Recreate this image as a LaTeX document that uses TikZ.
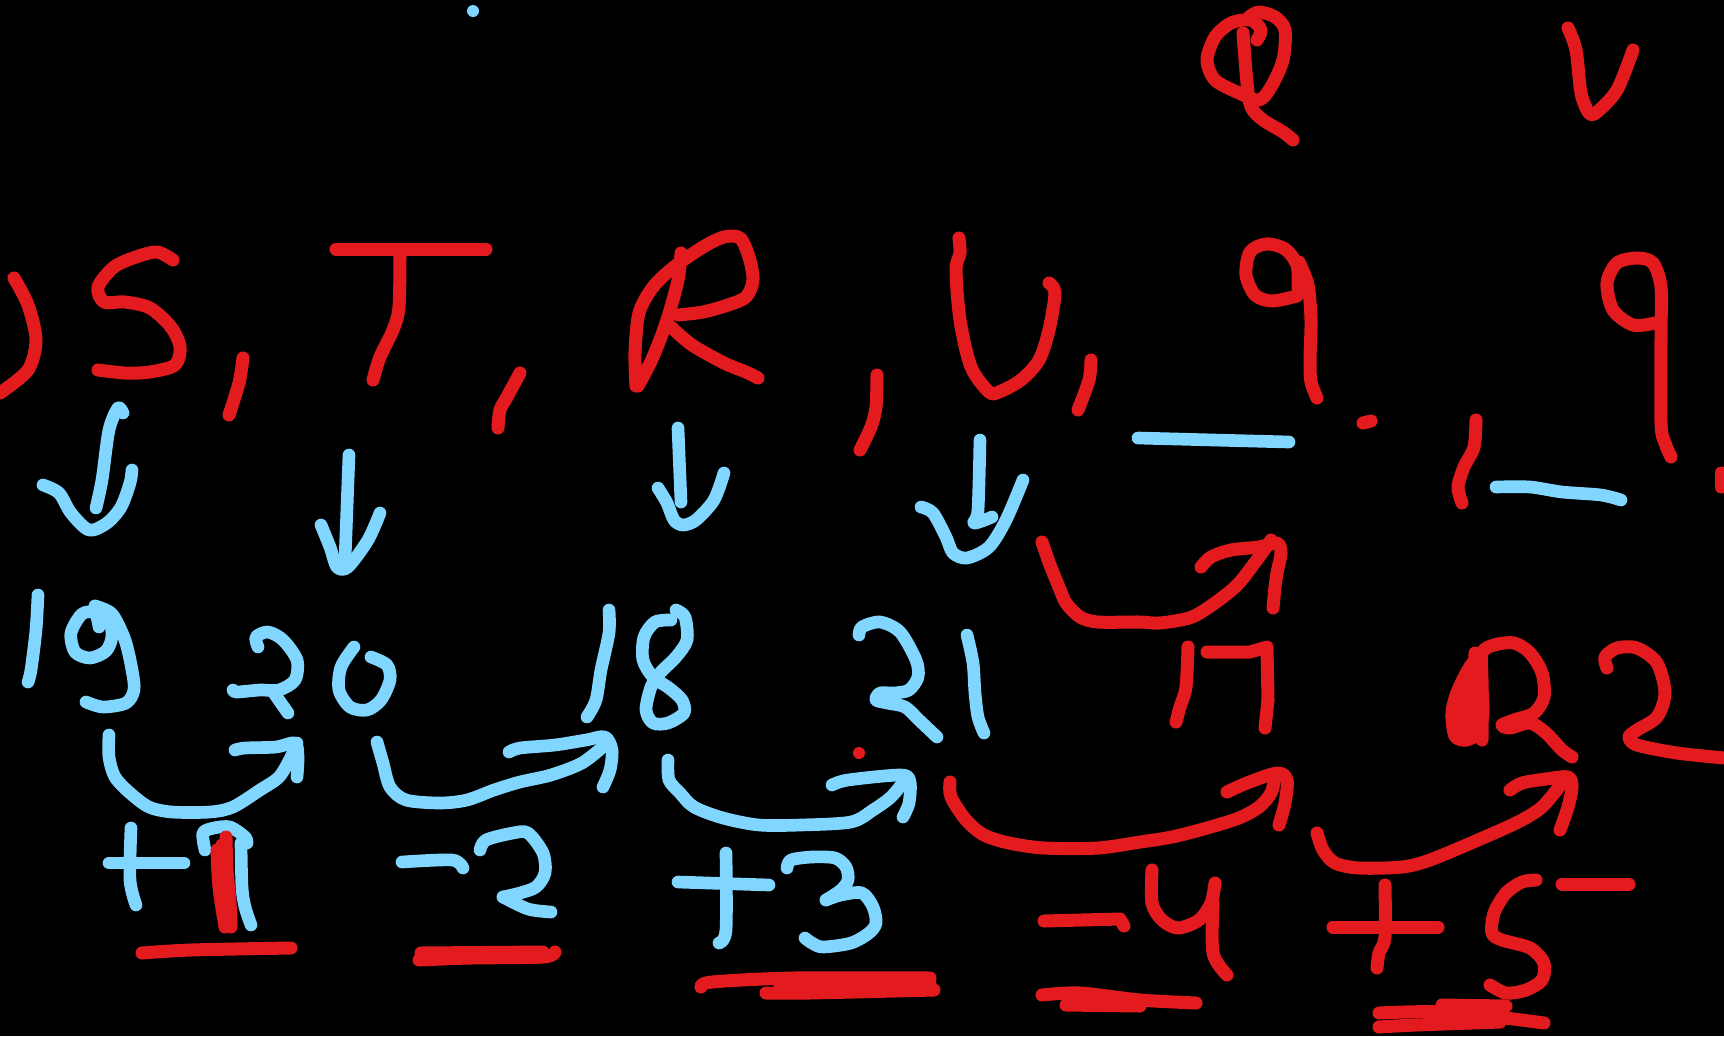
\documentclass[tikz,border=0pt]{standalone}
\definecolor{hred}{RGB}{228,27,30}
\definecolor{hblue}{RGB}{128,214,255}
\begin{document}
\begin{tikzpicture}[x=0.01cm,y=-0.01cm,
 rs/.style={draw=hred,line width=3.7pt,line cap=round,line join=round},
 bs/.style={draw=hblue,line width=3.6pt,line cap=round,line join=round}]
\fill[black] (0,0) rectangle (1724,1036);
\useasboundingbox (0,0) rectangle (1724,1036);
% ---------- red letters row ----------
\draw[rs] plot[smooth] coordinates {(14,278) (28,305) (36,340) (28,370) (0,393)};
\draw[rs] plot[smooth] coordinates {(173,260) (157,252) (136,257) (114,267) (98,287) (104,302) (125,302) (150,308) (171,327) (180,347) (175,365) (150,372) (125,373) (98,370)};
\draw[rs] plot[smooth] coordinates {(243,358) (239,383) (229,415)};
\draw[rs] (336,249) -- (486,249);
\draw[rs] plot[smooth] coordinates {(400,253) (399,307) (393,330) (380,357) (373,380)};
\draw[rs] plot[smooth] coordinates {(520,373) (507,397) (500,410) (498,428)};
\draw[rs] plot[smooth] coordinates {(681,253) (678,280) (667,320) (653,357) (638,386)};
\draw[rs] plot[smooth] coordinates {(636,386) (635,353) (639,313) (653,287) (674,267) (703,247) (724,237) (740,238) (749,257) (753,280) (746,297) (728,305) (703,312) (678,315)};
\draw[rs] plot[smooth] coordinates {(671,327) (692,345) (724,363) (746,372) (758,378)};
\draw[rs] plot[smooth] coordinates {(877,375) (876,407) (871,427) (860,450)};
\draw[rs] plot[smooth] coordinates {(959,238) (960,253) (956,270) (960,320) (971,367) (989,392) (999,392) (1021,380) (1039,360) (1049,330) (1055,293) (1049,283)};
\draw[rs] plot[smooth] coordinates {(1091,360) (1089,380) (1078,410)};
% Q and V
\draw[rs] plot[smooth] coordinates {(1257,40) (1261,30) (1251,20) (1231,23) (1215,37) (1207,60) (1215,80) (1239,93) (1259,100) (1271,87) (1283,60) (1285,30) (1275,17) (1259,12) (1249,17)};
\draw[rs] plot[smooth] coordinates {(1243,33) (1247,83) (1251,107) (1263,120) (1283,132) (1293,140)};
\draw[rs] plot[smooth] coordinates {(1568,28) (1576,50) (1581,93) (1589,113) (1597,112) (1617,90) (1633,50)};
% nines
\draw[rs] plot[smooth] coordinates {(1298,288) (1297,265) (1285,249) (1266,244) (1250,252) (1246,275) (1255,295) (1272,301) (1297,296)};
\draw[rs] plot[smooth] coordinates {(1299,262) (1308,285) (1311,320) (1310,360) (1311,382) (1317,398)};
\draw[rs] (1363,423) -- (1371,421);
\draw[rs] plot[smooth] coordinates {(1655,323) (1633,325) (1613,310) (1607,283) (1617,263) (1637,258) (1653,263) (1661,287) (1661,333) (1661,423) (1665,443) (1671,457)};
\draw[rs] plot[smooth] coordinates {(1476,420) (1474,447) (1464,467) (1458,487) (1462,503)};
\draw[rs] (1721,473) -- (1721,487);
% ---------- blue arrows down ----------
\fill[hblue] (473,11) circle (6);
\draw[bs] plot[smooth] coordinates {(123,413) (118,408) (109,430) (102,480) (96,508)};
\draw[bs] plot[smooth] coordinates {(43,485) (59,493) (71,513) (89,530) (107,523) (121,507) (130,483) (132,470)};
\draw[bs] (349,455) -- (345,560);
\draw[bs] plot[smooth] coordinates {(321,525) (330,547) (337,567) (348,567) (368,540) (380,513)};
\draw[bs] (678,428) -- (681,502);
\draw[bs] plot[smooth] coordinates {(658,488) (667,503) (674,520) (683,525) (696,520) (714,500) (724,473)};
\draw[bs] plot[smooth] coordinates {(980,440) (978,510) (974,523) (992,517)};
\draw[bs] plot[smooth] coordinates {(921,507) (933,513) (946,537) (953,553) (967,558) (989,547) (1006,520) (1023,480)};
\draw[bs] (1138,438) -- (1289,442);
\draw[bs] plot[smooth] coordinates {(1496,487) (1530,487) (1562,492) (1601,495) (1621,500)};
% ---------- blue numbers ----------
\draw[bs] plot[smooth] coordinates {(38,595) (36,630) (31,670) (28,682)};
\draw[bs] plot[smooth] coordinates {(99,627) (95,613) (82,614) (71,633) (75,652) (90,658) (106,651) (112,636) (108,615) (95,606)};
\draw[bs] plot[smooth] coordinates {(95,606) (112,614) (125,640) (132,670) (134,690) (126,703) (103,707) (86,702)};
\draw[bs] plot[smooth] coordinates {(258,647) (256,637) (268,632) (283,640) (297,660) (295,680) (279,690) (260,690) (237,692) (233,690)};
\draw[bs] plot[smooth] coordinates {(274,693) (283,706) (288,713)};
\draw[bs] plot[smooth] coordinates {(354,647) (341,667) (339,690) (350,707) (367,710) (381,700) (390,680) (387,665) (371,657)};
\draw[bs] plot[smooth] coordinates {(609,610) (609,633) (601,670) (596,700) (587,717)};
\draw[bs] plot[smooth] coordinates {(676,610) (685,617) (687,640) (676,657) (660,673) (651,687) (646,710) (653,723) (668,723) (684,713) (682,700) (669,688) (653,677) (643,660) (644,637) (655,622) (671,620)};
\draw[bs] plot[smooth] coordinates {(859,635) (862,627) (880,622) (900,632) (916,660) (918,677) (909,690) (894,693) (880,693) (876,700) (887,703) (905,707) (919,720) (937,737)};
\draw[bs] plot[smooth] coordinates {(967,635) (973,663) (975,693) (978,717) (984,733)};
% ---------- blue curved arrows ----------
\draw[bs] plot[smooth] coordinates {(109,735) (109,757) (115,777) (130,793) (149,807) (172,812) (210,812) (233,807) (260,790) (279,777) (291,757) (297,743)};
\draw[bs] plot[smooth] coordinates {(235,750) (245,748) (276,747) (295,743) (298,757) (297,777)};
\draw[bs] plot[smooth] coordinates {(377,742) (383,763) (390,787) (406,800) (440,803) (467,800) (494,790) (520,782) (551,775) (582,763) (605,745)};
\draw[bs] plot[smooth] coordinates {(509,752) (520,748) (555,745) (586,740) (605,737) (612,750) (610,770) (603,787)};
\draw[bs] plot[smooth] coordinates {(668,760) (669,780) (680,793) (694,807) (723,818) (759,825) (801,825) (851,822) (873,810) (891,797) (905,780)};
\draw[bs] plot[smooth] coordinates {(832,785) (848,780) (901,775) (910,782) (909,803) (903,817)};
% ---------- blue +1 -2 +3 ----------
\draw[bs] (109,863) -- (184,863);
\draw[bs] plot[smooth] coordinates {(131,828) (130,880) (136,905)};
\draw[bs] plot[smooth] coordinates {(205,850) (203,833) (214,828) (230,827) (245,837) (247,843)};
\draw[bs] plot[smooth] coordinates {(241,843) (242,887) (245,907) (251,925)};
\draw[rs] plot[smooth] coordinates {(226,837) (227,870) (230,903) (231,927)};
\draw[rs] plot[smooth] coordinates {(217,850) (219,887) (225,927)};
\draw[rs] plot[smooth] coordinates {(222,845) (223,887) (228,925)};
\draw[bs] plot[smooth] coordinates {(402,862) (452,860) (463,868)};
\draw[bs] plot[smooth] coordinates {(480,850) (486,840) (513,833) (528,833) (543,853) (545,873) (536,887) (520,893) (503,897)};
\draw[bs] plot[smooth] coordinates {(503,897) (528,909) (551,912)};
\draw[bs] plot[smooth] coordinates {(678,882) (769,885)};
\draw[bs] plot[smooth] coordinates {(726,853) (726,930) (719,943)};
\draw[bs] plot[smooth] coordinates {(787,868) (791,860) (812,857) (835,858) (846,867) (848,880) (841,890) (826,900)};
\draw[bs] plot[smooth] coordinates {(826,900) (841,895) (862,893) (873,907) (876,923) (869,933) (851,943) (823,947) (812,943) (805,938)};
% ---------- red arrows ----------
\draw[rs] plot[smooth] coordinates {(1042,542) (1050,565) (1059,587) (1066,603) (1080,617) (1098,622) (1140,622) (1160,623) (1192,617) (1219,600) (1239,583) (1259,557) (1271,540)};
\draw[rs] plot[smooth] coordinates {(1201,567) (1211,557) (1231,550) (1259,547) (1277,543) (1281,553) (1277,573) (1275,587) (1273,608)};
\fill[hred] (859,753) circle (6);
\draw[rs] plot[smooth] coordinates {(950,782) (951,797) (966,820) (984,835) (1009,843) (1044,848) (1098,848) (1140,842) (1172,837) (1207,828) (1239,818) (1259,807) (1271,793) (1275,777)};
\draw[rs] plot[smooth] coordinates {(1227,792) (1247,783) (1277,773) (1287,780) (1285,803) (1279,825)};
\draw[rs] plot[smooth] coordinates {(1317,833) (1323,850) (1335,863) (1359,868) (1402,867) (1430,860) (1478,840) (1518,822) (1542,807) (1562,783)};
\draw[rs] plot[smooth] coordinates {(1510,790) (1522,783) (1546,779) (1568,777) (1572,787) (1568,807) (1560,830)};
% ---------- red numbers ----------
\draw[rs] plot[smooth] coordinates {(1188,647) (1186,687) (1180,707) (1176,722)};
\draw[rs] (1207,652) -- (1250,652) -- (1267,647) -- (1268,700) -- (1265,728);
\filldraw[rs,fill=hred] plot[smooth cycle] coordinates {(1474,662) (1458,690) (1452,713) (1455,736) (1466,740) (1478,733) (1483,712) (1481,685)};
\draw[rs] plot[smooth] coordinates {(1475,653) (1474,673)};
\draw[rs] plot[smooth] coordinates {(1482,740) (1482,680) (1482,653) (1494,645) (1514,643) (1530,653) (1542,673) (1544,697) (1534,713) (1514,720) (1502,725) (1510,728) (1530,723) (1546,733) (1562,750) (1572,757)};
\draw[rs] plot[smooth] coordinates {(1607,668) (1605,657) (1617,648) (1637,648) (1657,663) (1665,693) (1657,717) (1637,730) (1629,737) (1637,745) (1677,753) (1724,758)};
% ---------- red -4 +5 ----------
\draw[rs] (1044,921) -- (1120,919) -- (1124,926);
\draw[rs] plot[smooth] coordinates {(1152,870) (1152,903) (1162,920) (1178,928) (1199,920) (1211,903) (1215,883)};
\draw[rs] plot[smooth] coordinates {(1213,903) (1213,953) (1227,975)};
\draw[rs] (1333,927) -- (1438,927);
\draw[rs] plot[smooth] coordinates {(1385,885) (1385,937) (1379,953) (1377,968)};
\draw[rs] plot[smooth] coordinates {(1536,880) (1522,882) (1506,893) (1494,913) (1492,933) (1502,940) (1530,948) (1544,963) (1542,980) (1526,990) (1506,993) (1490,985)};
\draw[rs] (1562,884) -- (1629,884);
% ---------- red underlines ----------
\draw[rs] plot[smooth] coordinates {(142,953) (191,950) (291,948)};
\draw[rs] plot[smooth] coordinates {(419,960) (470,958) (543,957) (555,952)};
\draw[rs] (421,953) -- (543,952);
\draw[rs] plot[smooth] coordinates {(701,987) (712,982) (794,978) (930,978)};
\draw[rs] plot[smooth] coordinates {(766,993) (809,993) (934,990)};
\draw[rs] (780,985) -- (930,984);
\draw[rs] plot[smooth] coordinates {(1042,995) (1080,993) (1140,1000) (1196,1003)};
\draw[rs] (1066,1005) -- (1140,1006);
\draw[rs] plot[smooth] coordinates {(1379,1013) (1450,1012) (1544,1023)};
\draw[rs] plot[smooth] coordinates {(1379,1027) (1416,1025) (1500,1022)};
\draw[rs] (1442,1005) -- (1506,1006);
\end{tikzpicture}
\end{document}
